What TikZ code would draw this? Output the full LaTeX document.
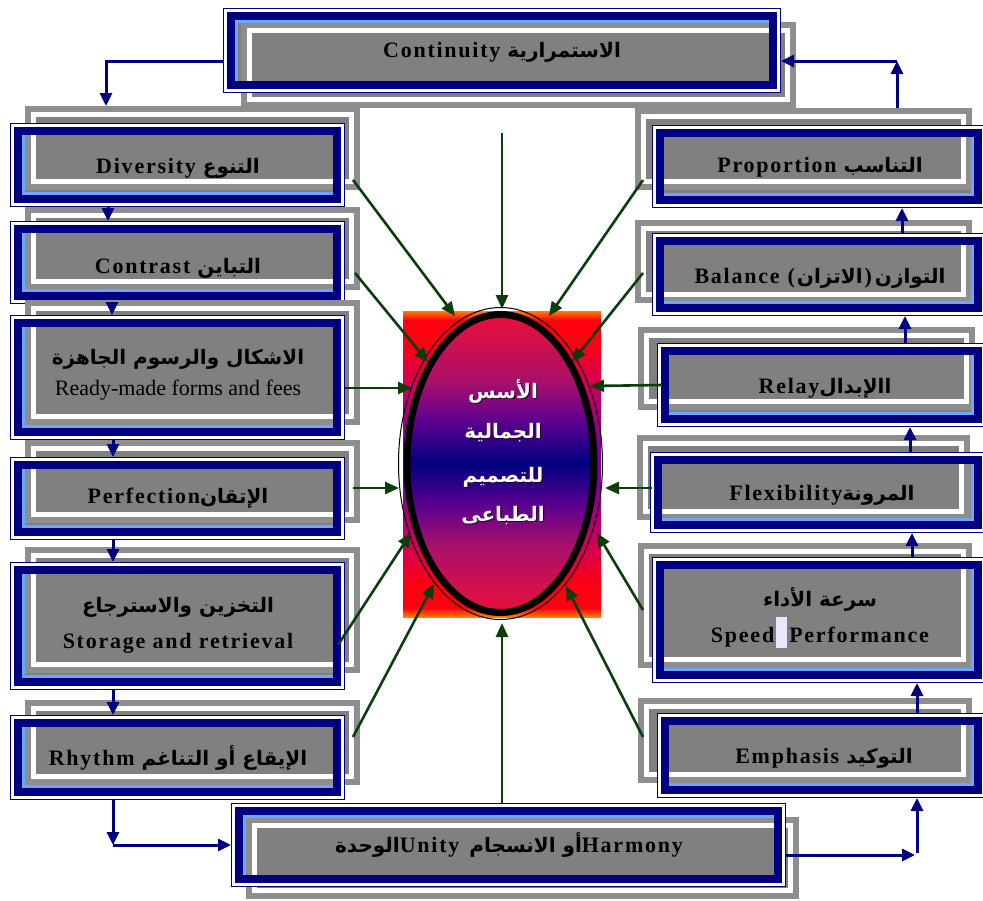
\documentclass[tikz,border=0pt]{standalone}
\usepackage{fontspec}
\setmainfont{Liberation Serif}
\newfontfamily\lsp[LetterSpace=8]{Liberation Serif}
\newfontfamily\arf[Script=Arabic]{DejaVu Sans}
\TeXXeTstate=1
\usetikzlibrary{arrows.meta}
\definecolor{cnavy}{RGB}{0,0,128}
\definecolor{clblue}{RGB}{110,165,255}
\definecolor{cgfill}{RGB}{128,128,128}
\definecolor{cgline}{RGB}{142,142,142}
\definecolor{cgreen}{RGB}{12,62,12}
\definecolor{chl}{RGB}{228,232,248}
\definecolor{cshadow}{RGB}{40,0,60}
\definecolor{corange}{RGB}{255,128,0}
\definecolor{cred}{RGB}{255,0,16}
\definecolor{ccrim}{RGB}{200,0,96}
\definecolor{cpurp}{RGB}{130,0,145}
\definecolor{ecrim}{RGB}{232,16,60}
\definecolor{epurpa}{RGB}{168,16,106}
\definecolor{epurpb}{RGB}{90,0,144}
\definecolor{enavy}{RGB}{0,0,127}
\pgfdeclareverticalshading{rectshade}{100bp}{color(0bp)=(corange); color(25bp)=(corange); color(26.5bp)=(cred); color(30bp)=(cred); color(38bp)=(ccrim); color(46bp)=(cpurp); color(54bp)=(cpurp); color(62bp)=(ccrim); color(70bp)=(cred); color(73.5bp)=(cred); color(75bp)=(corange); color(100bp)=(corange)}
\pgfdeclareverticalshading{ellshade}{100bp}{color(0bp)=(ecrim); color(25bp)=(ecrim); color(36bp)=(epurpa); color(43bp)=(epurpb); color(50bp)=(enavy); color(57bp)=(epurpb); color(64bp)=(epurpa); color(75bp)=(ecrim); color(100bp)=(ecrim)}
\newcommand\AR[1]{{\arf\bfseries\fontsize{20}{24}\selectfont\beginR#1\endR}}
\newcommand\gframe[4]{%
  \fill[cgline] (#1,#2) rectangle (#3,#4);
  \fill[white] ({#1+6},{#2+6}) rectangle ({#3-6},{#4-6});
  \fill[cgfill] ({#1+11},{#2+11}) rectangle ({#3-11},{#4-11});}
\newcommand\bframe[4]{%
  \draw[cnavy,line width=1.3pt] ({#1+0.65},{#2+0.65}) rectangle ({#3-0.65},{#4-0.65});
  \draw[white,line width=2.6pt] ({#1+2.6},{#2+2.6}) rectangle ({#3-2.6},{#4-2.6});
  \draw[cnavy,line width=8pt] ({#1+7.9},{#2+7.9}) rectangle ({#3-7.9},{#4-7.9});}
\newcommand\bevLB[4]{\draw[clblue,line width=3pt] ({#1+13.4},{#2+12}) -- ({#1+13.4},{#4-13.4}) -- ({#3-12},{#4-13.4});}
\newcommand\bevRB[4]{\draw[clblue,line width=3pt] ({#1+12},{#4-13.4}) -- ({#3-13.4},{#4-13.4}) -- ({#3-13.4},{#2+12});}
\newcommand\bevLT[4]{\draw[clblue,line width=3pt] ({#1+13.4},{#4-12}) -- ({#1+13.4},{#2+13.4}) -- ({#3-12},{#2+13.4});}
\newcommand\boxx[9]{%
  \fill[cgfill] ({#1+12},{#2+12}) rectangle ({#3-12},{#4-12});
  \gframe{#5}{#6}{#7}{#8}%
  \bframe{#1}{#2}{#3}{#4}%
  #9{#1}{#2}{#3}{#4}}
\newcommand\bnode[5]{\node[inner sep=0pt,outer sep=0pt,minimum width={(#4-#2)*1pt},minimum height={(#5-#3)*1pt}] (#1) at ({(#2+#4)/2},{(#3+#5)/2}) {};}
\begin{document}
\begin{tikzpicture}[x=1pt,y=-1pt,
  navyc/.style={draw=cnavy,line width=3pt,-{Triangle[length=13pt,width=12pt]}},
  greenc/.style={draw=cgreen,line width=2.6pt,-{Triangle[length=14pt,width=12pt]}},
  lab/.style={inner sep=0pt,anchor=base,text=black,font=\fontsize{22}{26}\selectfont\lsp\bfseries},
  labr/.style={inner sep=0pt,anchor=base,text=black,font=\fontsize{22}{26}\selectfont\rmfamily},
  corelab/.style={inner sep=0pt,anchor=base,text=white,font=\fontsize{20}{24}\selectfont\arf\bfseries},
  coreshadow/.style={corelab,text=cshadow}]
\useasboundingbox (0,0) rectangle (983,900);
\fill[white] (0,0) rectangle (983,900);
% ---- central shape
\fill[shading=rectshade] (403,311) rectangle (601,617);
\draw[black,line width=1pt] (500.5,463.5) ellipse [x radius=102pt, y radius=156pt];
\shade[shading=ellshade] (500.5,463.5) ellipse [x radius=91pt, y radius=146pt];
\draw[black,line width=7pt] (500.5,463.5) ellipse [x radius=93.5pt, y radius=149pt];
\node[coreshadow] (core1s) at (504.2,399.2) {\beginR الأسس\endR};
\node[corelab] (core1) at (503,398) {\beginR الأسس\endR};
\node[coreshadow] (core2s) at (504.2,439.2) {\beginR الجمالية\endR};
\node[corelab] (core2) at (503,438) {\beginR الجمالية\endR};
\node[coreshadow] (core3s) at (504.2,483.2) {\beginR للتصميم\endR};
\node[corelab] (core3) at (503,482) {\beginR للتصميم\endR};
\node[coreshadow] (core4s) at (504.2,522.2) {\beginR الطباعى\endR};
\node[corelab] (core4) at (503,521) {\beginR الطباعى\endR};
% ---- boxes
\boxx{223}{8}{781}{93}{241}{22}{796}{108}{\bevLT}
\boxx{10}{123}{345}{207}{25}{106}{360}{190}{\bevLB}
\boxx{10}{221}{345}{304}{25}{207}{360}{290}{\bevLB}
\boxx{10}{315}{345}{440}{25}{300}{360}{425}{\bevLB}
\boxx{10}{457}{345}{540}{25}{440}{360}{523}{\bevLB}
\boxx{10}{562}{345}{690}{25}{547}{360}{673}{\bevLB}
\boxx{10}{715}{345}{800}{25}{700}{360}{785}{\bevLB}
\boxx{652}{125}{986}{208}{635}{108}{972}{190}{\bevRB}
\boxx{652}{233}{986}{316}{635}{220}{972}{303}{\bevRB}
\boxx{657}{343}{986}{427}{638}{327}{975}{410}{\bevRB}
\boxx{650}{452}{986}{533}{637}{435}{970}{520}{\bevRB}
\boxx{652}{557}{986}{683}{638}{543}{972}{668}{\bevRB}
\boxx{657}{713}{986}{798}{638}{698}{972}{783}{\bevRB}
\boxx{231}{803}{786}{887}{246}{817}{799}{899}{\bevLT}
\bnode{b-cont}{223}{8}{781}{93}
\bnode{b-div}{10}{123}{345}{207}
\bnode{g-div}{25}{106}{360}{190}
\bnode{b-con}{10}{221}{345}{304}
\bnode{b-rdy}{10}{315}{345}{440}
\bnode{b-per}{10}{457}{345}{540}
\bnode{b-sto}{10}{562}{345}{690}
\bnode{b-rhy}{10}{715}{345}{800}
\bnode{b-pro}{652}{125}{986}{208}
\bnode{g-pro}{635}{108}{972}{190}
\bnode{b-bal}{652}{233}{986}{316}
\bnode{b-rel}{657}{343}{986}{427}
\bnode{b-fle}{650}{452}{986}{533}
\bnode{b-spd}{652}{557}{986}{683}
\bnode{b-emp}{657}{713}{986}{798}
\bnode{b-har}{231}{803}{786}{887}
% ---- texts
\node[lab] (t-cont) at (502,57) {Continuity\hspace{7pt}\AR{الاستمرارية}};
\node[lab] (t-div) at (178,173) {Diversity\hspace{7pt}\AR{التنوع}};
\node[lab] (t-con) at (178,273) {Contrast\hspace{7pt}\AR{التباين}};
\node[lab] (t-rdya) at (178,364) {\AR{الاشكال والرسوم  الجاهزة}};
\node[labr] (t-rdy) at (178,395) {Ready-made forms and fees};
\node[lab] (t-per) at (178,503) {Perfection\AR{الإتقان}};
\node[lab] (t-stoa) at (178,612) {\AR{التخزين والاسترجاع}};
\node[lab] (t-sto) at (178,648) {Storage and retrieval};
\node[lab] (t-rhy) at (178,765) {Rhythm\hspace{7pt}\AR{الإيقاع أو التناغم}};
\node[lab] (t-pro) at (820,172) {Proportion\hspace{7pt}\AR{التناسب}};
\node[lab] (t-bal) at (820,283) {Balance\hspace{8pt}(\hspace{2pt}\AR{الاتزان}\hspace{2pt})\hspace{3pt}\AR{التوازن}};
\node[lab] (t-rel) at (825,393) {Relay\AR{االإبدال}};
\node[lab] (t-fle) at (822,500) {Flexibility\AR{المرونة}};
\node[lab] (t-spda) at (820,606) {\AR{سرعة الأداء}};
\node[lab] (t-spd) at (820,642) {Speed\hspace{2pt}\textcolor{chl}{\rule[-6pt]{11pt}{31pt}}\hspace{2pt}Performance};
\node[lab] (t-emp) at (824,763) {Emphasis\hspace{7pt}\AR{التوكيد}};
\node[lab] (t-har) at (509,852) {\AR{الوحدة}Unity\hspace{10pt}\AR{أو الانسجام}Harmony};
% ---- helper coordinates
\coordinate (yc) at (0,61);
\coordinate (yh) at (0,845);
\coordinate (yh2) at (0,855);
\coordinate (yh3) at (0,853);
\coordinate (x106) at (106,0);
\coordinate (x108) at (108,0);
\coordinate (x112) at (112,0);
\coordinate (x113) at (113,0);
\coordinate (x897) at (897,0);
\coordinate (x902) at (902,0);
\coordinate (x905) at (905,0);
\coordinate (x910) at (910,0);
\coordinate (x912) at (912,0);
\coordinate (x915) at (915,0);
\coordinate (x917) at (917,0);
\coordinate (x502) at (502,0);
% ---- navy connectors
\draw[navyc] (b-cont.west |- yc) -| (g-div.north -| x106);
\draw[navyc] (b-div.south -| x108) -- (b-con.north -| x108);
\draw[navyc] (b-con.south -| x112) -- (b-rdy.north -| x112);
\draw[navyc] (b-rdy.south -| x113) -- (b-per.north -| x113);
\draw[navyc] (b-per.south -| x113) -- (b-sto.north -| x113);
\draw[navyc] (b-sto.south -| x113) -- (b-rhy.north -| x113);
\draw[navyc] (b-rhy.south -| x113) -- (x113 |- yh);
\draw[navyc] (x113 |- yh) -- (b-har.west |- yh);
\draw[navyc] (b-har.east |- yh2) -- (x915 |- yh2);
\draw[navyc] (x917 |- yh3) -- (b-emp.south -| x917);
\draw[navyc] (b-emp.north -| x917) -- (b-spd.south -| x917);
\draw[navyc] (b-spd.north -| x912) -- (b-fle.south -| x912);
\draw[navyc] (b-fle.north -| x910) -- (b-rel.south -| x910);
\draw[navyc] (b-rel.north -| x905) -- (b-bal.south -| x905);
\draw[navyc] (b-bal.north -| x902) -- (b-pro.south -| x902);
\draw[navyc] (g-pro.north -| x897) -- (x897 |- yc);
\draw[navyc] (x897 |- yc) -- (b-cont.east |- yc);
% ---- green connectors
\coordinate (s-top) at (502,133);  \coordinate (e-top) at (502,309);
\coordinate (s-div) at (353,180);  \coordinate (e-div) at (455,316);
\coordinate (s-con) at (355,273);  \coordinate (e-con) at (428,362);
\coordinate (s-rdy) at (345,388);  \coordinate (e-rdy) at (412,388);
\coordinate (s-per) at (353,488);  \coordinate (e-per) at (399,488);
\coordinate (s-sto) at (338,645);  \coordinate (e-sto) at (411,533);
\coordinate (s-rhy) at (353,737);  \coordinate (e-rhy) at (434,584);
\coordinate (e-har) at (502,623);
\coordinate (s-pro) at (643,180);  \coordinate (e-pro) at (549,316);
\coordinate (s-bal) at (643,273);  \coordinate (e-bal) at (572,362);
\coordinate (s-rel) at (662,385);  \coordinate (e-rel) at (590,386);
\coordinate (s-fle) at (652,488);  \coordinate (e-fle) at (605,488);
\coordinate (s-spd) at (643,610);  \coordinate (e-spd) at (597,533);
\coordinate (s-emp) at (643,737);  \coordinate (e-emp) at (566,586);
\draw[greenc] (s-top) -- (e-top);
\draw[greenc] (s-div) -- (e-div);
\draw[greenc] (s-con) -- (e-con);
\draw[greenc] (s-rdy) -- (e-rdy);
\draw[greenc] (s-per) -- (e-per);
\draw[greenc] (s-sto) -- (e-sto);
\draw[greenc] (s-rhy) -- (e-rhy);
\draw[greenc] (b-har.north -| x502) -- (e-har);
\draw[greenc] (s-pro) -- (e-pro);
\draw[greenc] (s-bal) -- (e-bal);
\draw[greenc] (s-rel) -- (e-rel);
\draw[greenc] (s-fle) -- (e-fle);
\draw[greenc] (s-spd) -- (e-spd);
\draw[greenc] (s-emp) -- (e-emp);
\end{tikzpicture}
\end{document}
